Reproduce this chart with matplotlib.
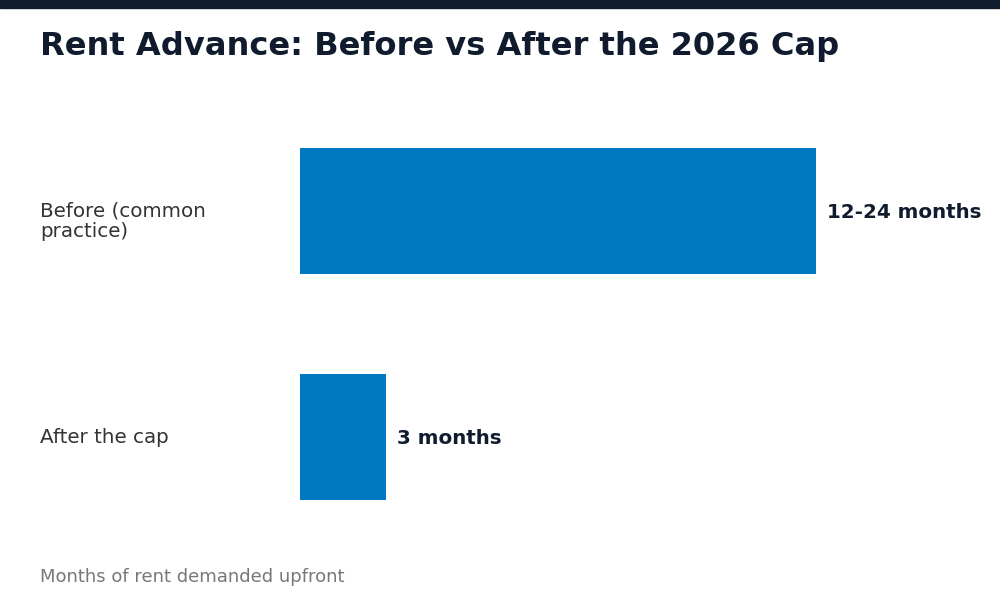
import matplotlib
matplotlib.use("Agg")
import matplotlib.pyplot as plt
import matplotlib.transforms as mtransforms
from matplotlib.patches import Rectangle

categories = ["Before (common\npractice)", "After the cap"]
values = [18, 3]  # midpoint of 12-24 months vs 3 months
value_labels = ["12-24 months", "3 months"]
title = "Rent Advance: Before vs After the 2026 Cap"
footer = "Months of rent demanded upfront"

NAVY = "#101c2e"
BLUE = "#0079c1"

fig = plt.figure(figsize=(10, 6), dpi=100)
fig.patch.set_facecolor("white")

# top band
fig.patches.append(Rectangle((0, 1 - 8 / 600), 1, 8 / 600, transform=fig.transFigure,
                             color=NAVY, zorder=0))

ax = fig.add_axes([0.30, 50 / 600, 0.66, 452 / 600])
ypos = list(range(len(categories)))
ax.barh(ypos, values, height=0.56, color=BLUE)
ax.set_xlim(0, 660 / (86 / 3))
ax.set_ylim(len(categories) - 0.5, -0.5)
ax.axis("off")

trans = mtransforms.blended_transform_factory(fig.transFigure, ax.transData)
for y, cat, v, lab in zip(ypos, categories, values, value_labels):
    ax.annotate(cat, (0.04, y), xycoords=trans, xytext=(0, 6.6), textcoords="offset points",
                ha="left", va="top", fontsize=14.3, color="#333333", linespacing=1.1)
    ax.annotate(lab, (v, y), xytext=(8, 0), textcoords="offset points",
                ha="left", va="center_baseline", fontsize=14.3, fontweight="bold", color=NAVY)

fig.text(0.04, 1 - 46 / 600, title, ha="left", va="center", fontsize=23.1,
         fontweight="bold", color=NAVY)
fig.text(0.04, 1 - 582 / 600, footer, ha="left", va="baseline", fontsize=13,
         color="#777777")

fig.savefig("out.png", dpi=100)
